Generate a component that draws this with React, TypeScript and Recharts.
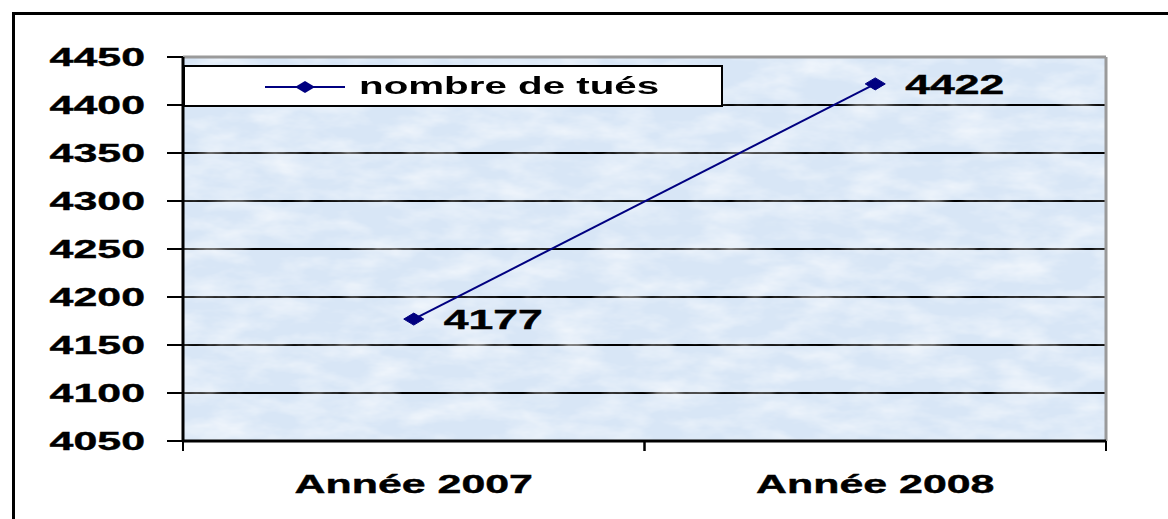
import React from "react";
import {
  LineChart,
  Line,
  XAxis,
  YAxis,
  CartesianGrid,
  ReferenceArea,
  Legend,
} from "recharts";

const categories = ["Année 2007", "Année 2008"];
const tues = [4177, 4422];
const yTicks = [4050, 4100, 4150, 4200, 4250, 4300, 4350, 4400, 4450];
const seriesName = "nombre de tués";

const data = categories.map((c, i) => ({ annee: c, tues: tues[i] }));

const FONT = '"Liberation Sans", Arial, sans-serif';
const STRETCH = 1.65;
const NAVY = "#000080";

function YTick(props: any) {
  const { x, y, payload } = props;
  return (
    <text
      transform={`translate(${x},${y}) scale(${STRETCH},1)`}
      textAnchor="end"
      dy="0.36em"
      fontFamily={FONT}
      fontWeight={700}
      fontSize={26}
      fill="#000"
      stroke="#000"
      strokeWidth={0.4}
    >
      {payload.value}
    </text>
  );
}

function XTick(props: any) {
  const { x, y, payload } = props;
  const off = payload?.offset ?? 0;
  return (
    <g>
      <line x1={x - off} x2={x - off} y1={y - 10} y2={y} stroke="#000" strokeWidth={2} />
      <line x1={x + off} x2={x + off} y1={y - 10} y2={y} stroke="#000" strokeWidth={2} />
      <text
        transform={`translate(${x},${y + 42}) scale(${STRETCH},1)`}
        textAnchor="middle"
        fontFamily={FONT}
        fontWeight={700}
        fontSize={26}
        fill="#000"
        stroke="#000"
        strokeWidth={0.4}
      >
        {payload.value}
      </text>
    </g>
  );
}

function Diamond(props: any) {
  const { cx, cy } = props;
  if (cx == null || cy == null) return null;
  return (
    <polygon
      points={`${cx - 10},${cy} ${cx},${cy - 6} ${cx + 10},${cy} ${cx},${cy + 6}`}
      fill={NAVY}
      stroke={NAVY}
    />
  );
}

function ValueLabel(props: any) {
  const { x, y, value } = props;
  return (
    <text
      transform={`translate(${x + 30},${y}) scale(${STRETCH},1)`}
      dy="0.36em"
      fontFamily={FONT}
      fontWeight={700}
      fontSize={27}
      fill="#000"
      stroke="#000"
      strokeWidth={0.4}
    >
      {value}
    </text>
  );
}

// texture + gray top/right border of the plot area
function PlotFrame(props: any) {
  const { x, y, width, height } = props;
  return (
    <g>
      <defs>
        <filter id="mottle" x="0" y="0" width="1" height="1">
          <feTurbulence type="fractalNoise" baseFrequency="0.02 0.05" numOctaves={4} seed={3} />
          <feColorMatrix
            type="matrix"
            values="0 0 0 0 1  0 0 0 0 1  0 0 0 0 1  0 0 0 1.1 -0.4"
          />
        </filter>
      </defs>
      <rect x={x} y={y} width={width} height={height} fill="#fff" filter="url(#mottle)" />
      <line x1={x} x2={x + width} y1={y} y2={y} stroke="#9a9a9a" strokeWidth={3} />
      <line x1={x + width} x2={x + width} y1={y} y2={y + height} stroke="#9a9a9a" strokeWidth={3} />
    </g>
  );
}

function LegendBox() {
  return (
    <div
      style={{
        position: "relative",
        width: 540,
        height: 42,
        boxSizing: "border-box",
        border: "2px solid #000",
        background: "#fff",
      }}
    >
      <svg width={80} height={14} style={{ position: "absolute", left: 80, top: 13 }}>
        <line x1={0} x2={80} y1={7} y2={7} stroke={NAVY} strokeWidth={2} />
        <polygon points="30,7 40,1 50,7 40,13" fill={NAVY} />
      </svg>
      <div
        style={{
          position: "absolute",
          left: 174,
          top: 4,
          fontFamily: FONT,
          fontWeight: 700,
          fontSize: 24,
          lineHeight: "30px",
          whiteSpace: "nowrap",
          transform: `scale(1.68,1)`,
          transformOrigin: "left center",
        }}
      >
        {seriesName}
      </div>
    </div>
  );
}

export default function App() {
  return (
    <div
      style={{
        position: "fixed",
        left: 0,
        top: 0,
        width: 1168,
        height: 519,
        overflow: "hidden",
        background: "#fff",
      }}
    >
      <div
        style={{
          position: "absolute",
          left: 12,
          top: 12,
          width: 1300,
          height: 700,
          borderLeft: "3px solid #000",
          borderTop: "3px solid #000",
        }}
      />
      <div style={{ position: "absolute", left: 0, top: 0 }}>
        <LineChart
          width={1168}
          height={519}
          data={data}
          margin={{ top: 57, right: 62, bottom: 18, left: 0 }}
        >
          <CartesianGrid vertical={false} fill="#d8e6f6" stroke="#000" strokeWidth={2} />
          <ReferenceArea
            x1={categories[0]}
            x2={categories[categories.length - 1]}
            y1={yTicks[0]}
            y2={yTicks[yTicks.length - 1]}
            shape={PlotFrame}
            ifOverflow="visible"
          />
          <XAxis
            dataKey="annee"
            scale="band"
            height={60}
            axisLine={{ stroke: "#000", strokeWidth: 3 }}
            tickLine={false}
            tickSize={10}
            tickMargin={0}
            tick={XTick}
            interval={0}
          />
          <YAxis
            width={183}
            domain={[yTicks[0], yTicks[yTicks.length - 1]]}
            ticks={yTicks}
            interval={0}
            axisLine={{ stroke: "#000", strokeWidth: 3 }}
            tickLine={{ stroke: "#000", strokeWidth: 2 }}
            tickSize={16}
            tickMargin={22}
            tick={YTick}
          />
          <Legend
            layout="horizontal"
            verticalAlign="middle"
            align="center"
            content={() => <LegendBox />}
            wrapperStyle={{ position: "absolute", left: 183, top: 65, width: 540 }}
          />
          <Line
            type="linear"
            dataKey="tues"
            name={seriesName}
            stroke={NAVY}
            strokeWidth={2}
            dot={Diamond}
            activeDot={false}
            label={ValueLabel}
            isAnimationActive={false}
          />
        </LineChart>
      </div>
    </div>
  );
}
